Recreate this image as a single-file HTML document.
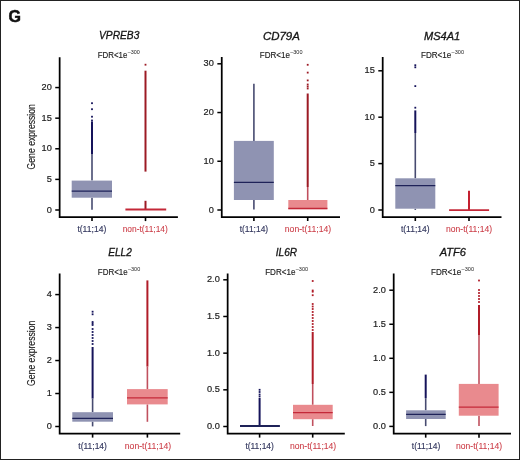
<!DOCTYPE html>
<html><head><meta charset="utf-8"><style>
html,body{margin:0;padding:0;background:#fff;}
body{width:520px;height:460px;overflow:hidden;}
svg{display:block;font-family:"Liberation Sans", sans-serif;will-change:transform;}
</style></head><body>
<svg width="520" height="460" viewBox="0 0 520 460">
<rect x="0" y="0" width="520" height="460" fill="#fff"/>
<text x="8.6" y="21.9" font-size="16" font-weight="bold" fill="#111" stroke="#111" stroke-width="0.5">G</text>
<path d="M59.65 57.2V217.1H177.9" fill="none" stroke="#000" stroke-width="1.75"/>
<line x1="55.25" y1="210" x2="59.65" y2="210" stroke="#000" stroke-width="1.5"/>
<text x="51.75" y="212.5" text-anchor="end" font-size="9.2" fill="#222" stroke="#222" stroke-width="0.2">0</text>
<line x1="55.25" y1="179.39" x2="59.65" y2="179.39" stroke="#000" stroke-width="1.5"/>
<text x="51.75" y="181.89" text-anchor="end" font-size="9.2" fill="#222" stroke="#222" stroke-width="0.2">5</text>
<line x1="55.25" y1="148.78" x2="59.65" y2="148.78" stroke="#000" stroke-width="1.5"/>
<text x="51.75" y="151.28" text-anchor="end" font-size="9.2" fill="#222" stroke="#222" stroke-width="0.2">10</text>
<line x1="55.25" y1="118.17" x2="59.65" y2="118.17" stroke="#000" stroke-width="1.5"/>
<text x="51.75" y="120.67" text-anchor="end" font-size="9.2" fill="#222" stroke="#222" stroke-width="0.2">15</text>
<line x1="55.25" y1="87.56" x2="59.65" y2="87.56" stroke="#000" stroke-width="1.5"/>
<text x="51.75" y="90.06" text-anchor="end" font-size="9.2" fill="#222" stroke="#222" stroke-width="0.2">20</text>
<line x1="92" y1="217.1" x2="92" y2="221.1" stroke="#000" stroke-width="1.6"/>
<line x1="145.5" y1="217.1" x2="145.5" y2="221.1" stroke="#000" stroke-width="1.6"/>
<line x1="92" y1="197.7" x2="92" y2="209.7" stroke="#474b70" stroke-width="1.6"/>
<line x1="92" y1="154" x2="92" y2="180.6" stroke="#474b70" stroke-width="1.6"/>
<line x1="92" y1="121.5" x2="92" y2="154" stroke="#15135a" stroke-width="2.0"/>
<rect x="91.1" y="102.3" width="1.8" height="1.8" fill="#15135a"/>
<rect x="91.1" y="108.3" width="1.8" height="1.8" fill="#15135a"/>
<rect x="91.1" y="115.8" width="1.8" height="1.8" fill="#15135a"/>
<rect x="91.1" y="119.6" width="1.8" height="1.8" fill="#15135a"/>
<rect x="71.7" y="180.6" width="40.3" height="17.1" fill="#8f93b2"/>
<line x1="71.7" y1="191.1" x2="112" y2="191.1" stroke="#1e2258" stroke-width="1.3"/>
<line x1="145.5" y1="70.7" x2="145.5" y2="171.6" stroke="#9c1a24" stroke-width="2.0"/>
<line x1="145.5" y1="200.8" x2="145.5" y2="209.5" stroke="#9c1a24" stroke-width="2.0"/>
<rect x="144.6" y="63.8" width="1.8" height="1.8" fill="#9c1a24"/>
<line x1="125.4" y1="209.5" x2="166.2" y2="209.5" stroke="#c42838" stroke-width="1.8"/>
<text x="99" y="39.4" font-size="10.7" font-style="italic" fill="#151515" stroke="#151515" stroke-width="0.3" textLength="40.4" lengthAdjust="spacingAndGlyphs">VPREB3</text>
<text x="97.8" y="58.1" font-size="8.6" fill="#222" stroke="#222" stroke-width="0.15" textLength="29.61" lengthAdjust="spacingAndGlyphs">FDR&lt;1e</text>
<text x="127.71" y="53.9" font-size="5.3" fill="#222" textLength="12.09" lengthAdjust="spacingAndGlyphs">–300</text>
<text x="77.4" y="232.3" font-size="8.8" fill="#33375e" stroke="#33375e" stroke-width="0.15" textLength="28.9" lengthAdjust="spacingAndGlyphs">t(11;14)</text>
<text x="122.7" y="232.3" font-size="8.8" fill="#cc3c46" stroke="#cc3c46" stroke-width="0.08" textLength="45.1" lengthAdjust="spacingAndGlyphs">non-t(11;14)</text>
<text transform="translate(34.6 0)" font-size="0"></text>
<path d="M221.75 57V217H340" fill="none" stroke="#000" stroke-width="1.75"/>
<line x1="217.35" y1="210" x2="221.75" y2="210" stroke="#000" stroke-width="1.5"/>
<text x="213.85" y="212.5" text-anchor="end" font-size="9.2" fill="#222" stroke="#222" stroke-width="0.2">0</text>
<line x1="217.35" y1="161.27" x2="221.75" y2="161.27" stroke="#000" stroke-width="1.5"/>
<text x="213.85" y="163.77" text-anchor="end" font-size="9.2" fill="#222" stroke="#222" stroke-width="0.2">10</text>
<line x1="217.35" y1="112.54" x2="221.75" y2="112.54" stroke="#000" stroke-width="1.5"/>
<text x="213.85" y="115.04" text-anchor="end" font-size="9.2" fill="#222" stroke="#222" stroke-width="0.2">20</text>
<line x1="217.35" y1="63.81" x2="221.75" y2="63.81" stroke="#000" stroke-width="1.5"/>
<text x="213.85" y="66.31" text-anchor="end" font-size="9.2" fill="#222" stroke="#222" stroke-width="0.2">30</text>
<line x1="253.9" y1="217" x2="253.9" y2="221" stroke="#000" stroke-width="1.6"/>
<line x1="307.7" y1="217" x2="307.7" y2="221" stroke="#000" stroke-width="1.6"/>
<line x1="253.9" y1="200" x2="253.9" y2="209.6" stroke="#474b70" stroke-width="1.6"/>
<line x1="253.9" y1="83.8" x2="253.9" y2="140.9" stroke="#474b70" stroke-width="1.6"/>
<rect x="233.9" y="140.9" width="39.9" height="59.1" fill="#8f93b2"/>
<line x1="233.9" y1="182.3" x2="273.8" y2="182.3" stroke="#1e2258" stroke-width="1.3"/>
<line x1="307.7" y1="209.2" x2="307.7" y2="209.2" stroke="#c0505e" stroke-width="1.6"/>
<line x1="307.7" y1="187" x2="307.7" y2="200" stroke="#c0505e" stroke-width="1.6"/>
<line x1="307.7" y1="93.5" x2="307.7" y2="187" stroke="#9c1a24" stroke-width="2.0"/>
<rect x="306.8" y="63.9" width="1.8" height="1.8" fill="#9c1a24"/>
<rect x="306.8" y="71.7" width="1.8" height="1.8" fill="#9c1a24"/>
<rect x="306.8" y="79.5" width="1.8" height="1.8" fill="#9c1a24"/>
<rect x="306.8" y="83.6" width="1.8" height="1.8" fill="#9c1a24"/>
<rect x="306.8" y="85.6" width="1.8" height="1.8" fill="#9c1a24"/>
<rect x="306.8" y="87.6" width="1.8" height="1.8" fill="#9c1a24"/>
<rect x="288.3" y="200" width="39.1" height="9.2" fill="#e98a8e"/>
<line x1="288.3" y1="208.5" x2="327.4" y2="208.5" stroke="#c42838" stroke-width="1.3"/>
<text x="262.9" y="39.7" font-size="10.7" font-style="italic" fill="#151515" stroke="#151515" stroke-width="0.3" textLength="36.9" lengthAdjust="spacingAndGlyphs">CD79A</text>
<text x="259.8" y="58.1" font-size="8.6" fill="#222" stroke="#222" stroke-width="0.15" textLength="30.1" lengthAdjust="spacingAndGlyphs">FDR&lt;1e</text>
<text x="290.2" y="53.9" font-size="5.3" fill="#222" textLength="12.3" lengthAdjust="spacingAndGlyphs">–300</text>
<text x="239.7" y="232.3" font-size="8.8" fill="#33375e" stroke="#33375e" stroke-width="0.15" textLength="28.5" lengthAdjust="spacingAndGlyphs">t(11;14)</text>
<text x="284.8" y="232.3" font-size="8.8" fill="#cc3c46" stroke="#cc3c46" stroke-width="0.08" textLength="46.4" lengthAdjust="spacingAndGlyphs">non-t(11;14)</text>
<path d="M382.7 57V217H501.5" fill="none" stroke="#000" stroke-width="1.75"/>
<line x1="378.3" y1="210" x2="382.7" y2="210" stroke="#000" stroke-width="1.5"/>
<text x="374.8" y="212.5" text-anchor="end" font-size="9.2" fill="#222" stroke="#222" stroke-width="0.2">0</text>
<line x1="378.3" y1="163.6" x2="382.7" y2="163.6" stroke="#000" stroke-width="1.5"/>
<text x="374.8" y="166.1" text-anchor="end" font-size="9.2" fill="#222" stroke="#222" stroke-width="0.2">5</text>
<line x1="378.3" y1="117.2" x2="382.7" y2="117.2" stroke="#000" stroke-width="1.5"/>
<text x="374.8" y="119.7" text-anchor="end" font-size="9.2" fill="#222" stroke="#222" stroke-width="0.2">10</text>
<line x1="378.3" y1="70.8" x2="382.7" y2="70.8" stroke="#000" stroke-width="1.5"/>
<text x="374.8" y="73.3" text-anchor="end" font-size="9.2" fill="#222" stroke="#222" stroke-width="0.2">15</text>
<line x1="415.3" y1="217" x2="415.3" y2="221" stroke="#000" stroke-width="1.6"/>
<line x1="469" y1="217" x2="469" y2="221" stroke="#000" stroke-width="1.6"/>
<line x1="415.3" y1="208.7" x2="415.3" y2="209.9" stroke="#474b70" stroke-width="1.6"/>
<line x1="415.3" y1="133" x2="415.3" y2="178.3" stroke="#474b70" stroke-width="1.6"/>
<line x1="415.3" y1="110.4" x2="415.3" y2="133" stroke="#15135a" stroke-width="2.0"/>
<rect x="414.4" y="106.8" width="1.8" height="1.8" fill="#15135a"/>
<rect x="414.4" y="85.2" width="1.8" height="1.8" fill="#15135a"/>
<rect x="414.4" y="66.4" width="1.8" height="1.8" fill="#15135a"/>
<rect x="414.4" y="64.3" width="1.8" height="1.8" fill="#15135a"/>
<rect x="395.3" y="178.3" width="40" height="30.4" fill="#8f93b2"/>
<line x1="395.3" y1="185.6" x2="435.3" y2="185.6" stroke="#1e2258" stroke-width="1.3"/>
<line x1="469" y1="190.8" x2="469" y2="210.1" stroke="#c42030" stroke-width="2.0"/>
<line x1="449.1" y1="210.1" x2="489.1" y2="210.1" stroke="#c42838" stroke-width="1.8"/>
<text x="424" y="39.7" font-size="10.7" font-style="italic" fill="#151515" stroke="#151515" stroke-width="0.3" textLength="36.2" lengthAdjust="spacingAndGlyphs">MS4A1</text>
<text x="421" y="58.1" font-size="8.6" fill="#222" stroke="#222" stroke-width="0.15" textLength="30.31" lengthAdjust="spacingAndGlyphs">FDR&lt;1e</text>
<text x="451.62" y="53.9" font-size="5.3" fill="#222" textLength="12.39" lengthAdjust="spacingAndGlyphs">–300</text>
<text x="400.9" y="232.3" font-size="8.8" fill="#33375e" stroke="#33375e" stroke-width="0.15" textLength="28.7" lengthAdjust="spacingAndGlyphs">t(11;14)</text>
<text x="446" y="232.3" font-size="8.8" fill="#cc3c46" stroke="#cc3c46" stroke-width="0.08" textLength="46.1" lengthAdjust="spacingAndGlyphs">non-t(11;14)</text>
<path d="M59.65 273.5V433.6H180.2" fill="none" stroke="#000" stroke-width="1.75"/>
<line x1="55.25" y1="426.5" x2="59.65" y2="426.5" stroke="#000" stroke-width="1.5"/>
<text x="51.75" y="429" text-anchor="end" font-size="9.2" fill="#222" stroke="#222" stroke-width="0.2">0</text>
<line x1="55.25" y1="393.52" x2="59.65" y2="393.52" stroke="#000" stroke-width="1.5"/>
<text x="51.75" y="396.02" text-anchor="end" font-size="9.2" fill="#222" stroke="#222" stroke-width="0.2">1</text>
<line x1="55.25" y1="360.54" x2="59.65" y2="360.54" stroke="#000" stroke-width="1.5"/>
<text x="51.75" y="363.04" text-anchor="end" font-size="9.2" fill="#222" stroke="#222" stroke-width="0.2">2</text>
<line x1="55.25" y1="327.56" x2="59.65" y2="327.56" stroke="#000" stroke-width="1.5"/>
<text x="51.75" y="330.06" text-anchor="end" font-size="9.2" fill="#222" stroke="#222" stroke-width="0.2">3</text>
<line x1="55.25" y1="294.58" x2="59.65" y2="294.58" stroke="#000" stroke-width="1.5"/>
<text x="51.75" y="297.08" text-anchor="end" font-size="9.2" fill="#222" stroke="#222" stroke-width="0.2">4</text>
<line x1="92.6" y1="433.6" x2="92.6" y2="437.6" stroke="#000" stroke-width="1.6"/>
<line x1="147.4" y1="433.6" x2="147.4" y2="437.6" stroke="#000" stroke-width="1.6"/>
<line x1="92.6" y1="421.7" x2="92.6" y2="426.4" stroke="#474b70" stroke-width="1.6"/>
<line x1="92.6" y1="398.5" x2="92.6" y2="412.2" stroke="#474b70" stroke-width="1.6"/>
<line x1="92.6" y1="347" x2="92.6" y2="398.5" stroke="#15135a" stroke-width="2.0"/>
<rect x="91.7" y="310.8" width="1.8" height="1.8" fill="#15135a"/>
<rect x="91.7" y="313.4" width="1.8" height="1.8" fill="#15135a"/>
<rect x="91.7" y="321.1" width="1.8" height="1.8" fill="#15135a"/>
<rect x="91.7" y="322.6" width="1.8" height="1.8" fill="#15135a"/>
<rect x="91.7" y="324.1" width="1.8" height="1.8" fill="#15135a"/>
<rect x="91.7" y="328.1" width="1.8" height="1.8" fill="#15135a"/>
<rect x="91.7" y="331.1" width="1.8" height="1.8" fill="#15135a"/>
<rect x="91.7" y="334.1" width="1.8" height="1.8" fill="#15135a"/>
<rect x="91.7" y="337.1" width="1.8" height="1.8" fill="#15135a"/>
<rect x="91.7" y="340.1" width="1.8" height="1.8" fill="#15135a"/>
<rect x="91.7" y="343.1" width="1.8" height="1.8" fill="#15135a"/>
<rect x="72.3" y="412.2" width="40.7" height="9.5" fill="#8f93b2"/>
<line x1="72.3" y1="418.3" x2="113" y2="418.3" stroke="#1e2258" stroke-width="1.3"/>
<line x1="147.4" y1="404.4" x2="147.4" y2="421.8" stroke="#c0505e" stroke-width="1.6"/>
<line x1="147.4" y1="366.5" x2="147.4" y2="389.1" stroke="#c0505e" stroke-width="1.6"/>
<line x1="147.4" y1="280.4" x2="147.4" y2="366.5" stroke="#b01c28" stroke-width="2.0"/>
<rect x="127" y="389.1" width="40.7" height="15.3" fill="#e98a8e"/>
<line x1="127" y1="397.8" x2="167.7" y2="397.8" stroke="#c42838" stroke-width="1.3"/>
<text x="108.2" y="255.9" font-size="10.7" font-style="italic" fill="#151515" stroke="#151515" stroke-width="0.3" textLength="23.6" lengthAdjust="spacingAndGlyphs">ELL2</text>
<text x="97.8" y="274.8" font-size="8.6" fill="#222" stroke="#222" stroke-width="0.15" textLength="29.89" lengthAdjust="spacingAndGlyphs">FDR&lt;1e</text>
<text x="127.99" y="270.6" font-size="5.3" fill="#222" textLength="12.21" lengthAdjust="spacingAndGlyphs">–300</text>
<text x="78.3" y="449" font-size="8.8" fill="#33375e" stroke="#33375e" stroke-width="0.15" textLength="28.6" lengthAdjust="spacingAndGlyphs">t(11;14)</text>
<text x="124.8" y="449" font-size="8.8" fill="#cc3c46" stroke="#cc3c46" stroke-width="0.08" textLength="46.4" lengthAdjust="spacingAndGlyphs">non-t(11;14)</text>
<text transform="translate(34.6 0)" font-size="0"></text>
<path d="M227.65 273.5V433.6H344.8" fill="none" stroke="#000" stroke-width="1.75"/>
<line x1="223.25" y1="426.5" x2="227.65" y2="426.5" stroke="#000" stroke-width="1.5"/>
<text x="219.75" y="429" text-anchor="end" font-size="9.2" fill="#222" stroke="#222" stroke-width="0.2">0.0</text>
<line x1="223.25" y1="389.82" x2="227.65" y2="389.82" stroke="#000" stroke-width="1.5"/>
<text x="219.75" y="392.32" text-anchor="end" font-size="9.2" fill="#222" stroke="#222" stroke-width="0.2">0.5</text>
<line x1="223.25" y1="353.15" x2="227.65" y2="353.15" stroke="#000" stroke-width="1.5"/>
<text x="219.75" y="355.65" text-anchor="end" font-size="9.2" fill="#222" stroke="#222" stroke-width="0.2">1.0</text>
<line x1="223.25" y1="316.48" x2="227.65" y2="316.48" stroke="#000" stroke-width="1.5"/>
<text x="219.75" y="318.98" text-anchor="end" font-size="9.2" fill="#222" stroke="#222" stroke-width="0.2">1.5</text>
<line x1="223.25" y1="279.8" x2="227.65" y2="279.8" stroke="#000" stroke-width="1.5"/>
<text x="219.75" y="282.3" text-anchor="end" font-size="9.2" fill="#222" stroke="#222" stroke-width="0.2">2.0</text>
<line x1="259.6" y1="433.6" x2="259.6" y2="437.6" stroke="#000" stroke-width="1.6"/>
<line x1="312.7" y1="433.6" x2="312.7" y2="437.6" stroke="#000" stroke-width="1.6"/>
<line x1="259.6" y1="398" x2="259.6" y2="426" stroke="#15135a" stroke-width="2.0"/>
<rect x="258.7" y="388.9" width="1.8" height="1.8" fill="#15135a"/>
<rect x="258.7" y="391.1" width="1.8" height="1.8" fill="#15135a"/>
<rect x="258.7" y="393.6" width="1.8" height="1.8" fill="#15135a"/>
<rect x="258.7" y="395.6" width="1.8" height="1.8" fill="#15135a"/>
<line x1="240" y1="426" x2="279.9" y2="426" stroke="#1e2258" stroke-width="1.8"/>
<line x1="312.7" y1="419.2" x2="312.7" y2="426" stroke="#c0505e" stroke-width="1.6"/>
<line x1="312.7" y1="384" x2="312.7" y2="404.8" stroke="#c0505e" stroke-width="1.6"/>
<line x1="312.7" y1="332" x2="312.7" y2="384" stroke="#b01c28" stroke-width="2.0"/>
<rect x="311.8" y="280.1" width="1.8" height="1.8" fill="#b01c28"/>
<rect x="311.8" y="289.6" width="1.8" height="1.8" fill="#b01c28"/>
<rect x="311.8" y="290.8" width="1.8" height="1.8" fill="#b01c28"/>
<rect x="311.8" y="294.3" width="1.8" height="1.8" fill="#b01c28"/>
<rect x="311.8" y="303.1" width="1.8" height="1.8" fill="#b01c28"/>
<rect x="311.8" y="305.6" width="1.8" height="1.8" fill="#b01c28"/>
<rect x="311.8" y="308.1" width="1.8" height="1.8" fill="#b01c28"/>
<rect x="311.8" y="311.1" width="1.8" height="1.8" fill="#b01c28"/>
<rect x="311.8" y="314.1" width="1.8" height="1.8" fill="#b01c28"/>
<rect x="311.8" y="317.1" width="1.8" height="1.8" fill="#b01c28"/>
<rect x="311.8" y="320.1" width="1.8" height="1.8" fill="#b01c28"/>
<rect x="311.8" y="323.1" width="1.8" height="1.8" fill="#b01c28"/>
<rect x="311.8" y="326.1" width="1.8" height="1.8" fill="#b01c28"/>
<rect x="311.8" y="329.1" width="1.8" height="1.8" fill="#b01c28"/>
<rect x="293" y="404.8" width="39.7" height="14.4" fill="#e98a8e"/>
<line x1="293" y1="412.6" x2="332.7" y2="412.6" stroke="#c42838" stroke-width="1.3"/>
<text x="275.8" y="255.9" font-size="10.7" font-style="italic" fill="#151515" stroke="#151515" stroke-width="0.3" textLength="21.3" lengthAdjust="spacingAndGlyphs">IL6R</text>
<text x="265.2" y="274.8" font-size="8.6" fill="#222" stroke="#222" stroke-width="0.15" textLength="30.24" lengthAdjust="spacingAndGlyphs">FDR&lt;1e</text>
<text x="295.74" y="270.6" font-size="5.3" fill="#222" textLength="12.36" lengthAdjust="spacingAndGlyphs">–300</text>
<text x="245.4" y="449" font-size="8.8" fill="#33375e" stroke="#33375e" stroke-width="0.15" textLength="28.5" lengthAdjust="spacingAndGlyphs">t(11;14)</text>
<text x="290" y="449" font-size="8.8" fill="#cc3c46" stroke="#cc3c46" stroke-width="0.08" textLength="46.2" lengthAdjust="spacingAndGlyphs">non-t(11;14)</text>
<path d="M393.7 273.5V433.65H511" fill="none" stroke="#000" stroke-width="1.75"/>
<line x1="389.3" y1="426.4" x2="393.7" y2="426.4" stroke="#000" stroke-width="1.5"/>
<text x="385.8" y="428.9" text-anchor="end" font-size="9.2" fill="#222" stroke="#222" stroke-width="0.2">0.0</text>
<line x1="389.3" y1="392.35" x2="393.7" y2="392.35" stroke="#000" stroke-width="1.5"/>
<text x="385.8" y="394.85" text-anchor="end" font-size="9.2" fill="#222" stroke="#222" stroke-width="0.2">0.5</text>
<line x1="389.3" y1="358.3" x2="393.7" y2="358.3" stroke="#000" stroke-width="1.5"/>
<text x="385.8" y="360.8" text-anchor="end" font-size="9.2" fill="#222" stroke="#222" stroke-width="0.2">1.0</text>
<line x1="389.3" y1="324.25" x2="393.7" y2="324.25" stroke="#000" stroke-width="1.5"/>
<text x="385.8" y="326.75" text-anchor="end" font-size="9.2" fill="#222" stroke="#222" stroke-width="0.2">1.5</text>
<line x1="389.3" y1="290.2" x2="393.7" y2="290.2" stroke="#000" stroke-width="1.5"/>
<text x="385.8" y="292.7" text-anchor="end" font-size="9.2" fill="#222" stroke="#222" stroke-width="0.2">2.0</text>
<line x1="425.7" y1="433.65" x2="425.7" y2="437.65" stroke="#000" stroke-width="1.6"/>
<line x1="479" y1="433.65" x2="479" y2="437.65" stroke="#000" stroke-width="1.6"/>
<line x1="425.7" y1="419" x2="425.7" y2="426.1" stroke="#474b70" stroke-width="1.6"/>
<line x1="425.7" y1="398.2" x2="425.7" y2="410.3" stroke="#474b70" stroke-width="1.6"/>
<line x1="425.7" y1="374.6" x2="425.7" y2="398.2" stroke="#15135a" stroke-width="2.0"/>
<rect x="406.1" y="410.3" width="39.6" height="8.7" fill="#8f93b2"/>
<line x1="406.1" y1="414.4" x2="445.7" y2="414.4" stroke="#1e2258" stroke-width="1.3"/>
<line x1="479" y1="415.7" x2="479" y2="426" stroke="#c0505e" stroke-width="1.6"/>
<line x1="479" y1="335" x2="479" y2="383.9" stroke="#c0505e" stroke-width="1.6"/>
<line x1="479" y1="305" x2="479" y2="335" stroke="#b01c28" stroke-width="2.0"/>
<rect x="478.1" y="279.6" width="1.8" height="1.8" fill="#b01c28"/>
<rect x="478.1" y="289.1" width="1.8" height="1.8" fill="#b01c28"/>
<rect x="478.1" y="292.1" width="1.8" height="1.8" fill="#b01c28"/>
<rect x="478.1" y="295.1" width="1.8" height="1.8" fill="#b01c28"/>
<rect x="478.1" y="298.1" width="1.8" height="1.8" fill="#b01c28"/>
<rect x="478.1" y="301.1" width="1.8" height="1.8" fill="#b01c28"/>
<rect x="458.8" y="383.9" width="39.8" height="31.8" fill="#e98a8e"/>
<line x1="458.8" y1="407.2" x2="498.6" y2="407.2" stroke="#c42838" stroke-width="1.3"/>
<text x="439.8" y="255.9" font-size="10.7" font-style="italic" fill="#151515" stroke="#151515" stroke-width="0.3" textLength="26.2" lengthAdjust="spacingAndGlyphs">ATF6</text>
<text x="431" y="274.8" font-size="8.6" fill="#222" stroke="#222" stroke-width="0.15" textLength="30.31" lengthAdjust="spacingAndGlyphs">FDR&lt;1e</text>
<text x="461.62" y="270.6" font-size="5.3" fill="#222" textLength="12.39" lengthAdjust="spacingAndGlyphs">–300</text>
<text x="411.8" y="449" font-size="8.8" fill="#33375e" stroke="#33375e" stroke-width="0.15" textLength="28.5" lengthAdjust="spacingAndGlyphs">t(11;14)</text>
<text x="456" y="449" font-size="8.8" fill="#cc3c46" stroke="#cc3c46" stroke-width="0.08" textLength="46.1" lengthAdjust="spacingAndGlyphs">non-t(11;14)</text>
<text transform="translate(34.6 169.4) rotate(-90)" font-size="10.4" fill="#222" stroke="#222" stroke-width="0.15" textLength="65.3" lengthAdjust="spacingAndGlyphs">Gene expression</text>
<text transform="translate(34.6 385.9) rotate(-90)" font-size="10.4" fill="#222" stroke="#222" stroke-width="0.15" textLength="65.2" lengthAdjust="spacingAndGlyphs">Gene expression</text>
<rect x="0.5" y="0.5" width="519" height="459" fill="none" stroke="#222" stroke-width="1"/>
</svg>
</body></html>
